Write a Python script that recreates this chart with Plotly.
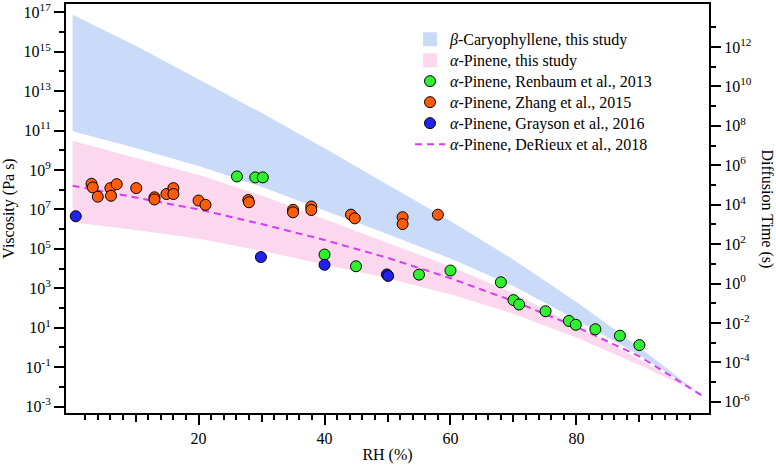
import plotly.graph_objects as go

# ---------------- data ----------------
rh_band = [0, 10, 20, 30, 40, 50, 60, 70, 80, 90, 99.4]
bcp_upper = [7.4e16, 2.0e15, 4.0e13, 7.9e11, 1.26e10, 1.86e8, 2.57e6, 2.8e4, 2.0e2, 1.0e0, 4.9e-3]
bcp_lower = [9.3e10, 1.3e10, 1.6e9, 1.4e8, 8.9e6, 5.6e5, 3.2e4, 1.3e3, 25, 0.4, 4.9e-3]
apin_upper = [3.0e10, 4.0e9, 5.6e8, 5.0e7, 3.2e6, 2.0e5, 1.26e4, 560, 12.6, 0.25, 4.9e-3]
apin_lower = [2.2e6, 8.9e5, 3.2e5, 7.9e4, 1.6e4, 3.2e3, 500, 50, 3.2, 0.126, 4.9e-3]

rh_derieux = [0, 10, 20, 30, 40, 50, 60, 70, 80, 90, 100]
visc_derieux = [1.6e8, 4.0e7, 1.0e7, 1.8e6, 2.8e5, 3.5e4, 3.2e3, 220, 11, 0.35, 3.5e-3]

rh_renbaum = [26.1, 29.0, 30.2, 40.0, 45.0, 55.0, 60.0, 68.0, 70.0, 70.9, 75.1, 78.8, 79.9, 83.0, 86.9, 90.0]
visc_renbaum = [4.7e8, 4.2e8, 4.2e8, 5.1e4, 1.3e4, 4.9e3, 7.9e3, 2.0e3, 250, 150, 68, 22, 14, 8.3, 3.9, 1.3]

rh_zhang = [3.0, 3.2, 4.0, 6.0, 6.1, 7.0, 10.1, 13.0, 13.0, 14.9, 16.0, 16.0, 20.0, 21.1,
            27.9, 28.0, 35.0, 35.0, 37.9, 37.9, 44.2, 44.8, 52.4, 52.4, 58.0]
visc_zhang = [2.0e8, 1.3e8, 4.4e7, 1.2e8, 4.9e7, 1.9e8, 1.2e8, 4.1e7, 3.2e7, 6.0e7, 1.2e8, 6.0e7, 2.8e7, 1.7e7,
              3.0e7, 2.3e7, 9.5e6, 7.1e6, 1.4e7, 9.3e6, 5.4e6, 3.5e6, 4.0e6, 1.8e6, 5.4e6]

rh_grayson = [0.5, 29.9, 40.0, 49.9, 50.1]
visc_grayson = [4.5e6, 3.8e4, 1.55e4, 5.0e3, 4.2e3]

x_major = [20, 40, 60, 80]
x_mid = [10, 30, 50, 70, 90]
x_minor = [2, 4, 6, 8, 12, 14, 16, 18, 22, 24, 26, 28, 32, 34, 36, 38, 42, 44, 46, 48,
           52, 54, 56, 58, 62, 64, 66, 68, 72, 74, 76, 78, 82, 84, 86, 88, 92, 94, 96, 98]
visc_exp_major = [17, 15, 13, 11, 9, 7, 5, 3, 1, -1, -3]
visc_exp_minor = [16, 14, 12, 10, 8, 6, 4, 2, 0, -2]
diff_exp_major = [12, 10, 8, 6, 4, 2, 0, -2, -4, -6]
diff_exp_minor = [13, 11, 9, 7, 5, 3, 1, -1, -3, -5]

legend_names = [
    "<i>β</i>-Caryophyllene, this study",
    "<i>α</i>-Pinene, this study",
    "<i>α</i>-Pinene, Renbaum et al., 2013",
    "<i>α</i>-Pinene, Zhang et al., 2015",
    "<i>α</i>-Pinene, Grayson et al., 2016",
    "<i>α</i>-Pinene, DeRieux et al., 2018",
]

# ---------------- styles ----------------
FONT = "Liberation Serif, Times New Roman, DejaVu Serif, serif"
BLUE_BAND = "#c9dbf8"
PINK_BAND = "#fcd8ee"
GREEN = "#2ef22e"
ORANGE = "#ff5c0a"
BLUE = "#2222f0"
MAGENTA = "#d63cf2"
X_RANGE = [-1.05, 101.05]
Y_RANGE = [-3.33, 17.42]
Y2_RANGE = [-6.57, 14.18]


def lname(s):
    return '<span style="font-size:16px">%s</span>' % s


fig = go.Figure()

# bands (legend shown through square-marker proxies below)
fig.add_trace(go.Scatter(x=rh_band, y=bcp_lower, mode="lines", line=dict(width=0),
                         showlegend=False, hoverinfo="skip"))
fig.add_trace(go.Scatter(x=rh_band, y=bcp_upper, mode="lines", line=dict(width=0),
                         fill="tonexty", fillcolor=BLUE_BAND, showlegend=False,
                         legendgroup="bcp"))
fig.add_trace(go.Scatter(x=rh_band, y=apin_lower, mode="lines", line=dict(width=0),
                         showlegend=False, hoverinfo="skip"))
fig.add_trace(go.Scatter(x=rh_band, y=apin_upper, mode="lines", line=dict(width=0),
                         fill="tonexty", fillcolor=PINK_BAND, showlegend=False,
                         legendgroup="apin"))
fig.add_trace(go.Scatter(x=[None], y=[None], mode="markers",
                         marker=dict(symbol="square", size=14, color=BLUE_BAND),
                         name=lname(legend_names[0]), legendrank=1, legendgroup="bcp"))
fig.add_trace(go.Scatter(x=[None], y=[None], mode="markers",
                         marker=dict(symbol="square", size=14, color=PINK_BAND),
                         name=lname(legend_names[1]), legendrank=2, legendgroup="apin"))

# DeRieux line
fig.add_trace(go.Scatter(x=rh_derieux, y=visc_derieux, mode="lines",
                         line=dict(color=MAGENTA, width=2, dash="7px,5px"),
                         name=lname(legend_names[5]), legendrank=6))

marker_line = dict(color="black", width=1)
fig.add_trace(go.Scatter(x=rh_renbaum, y=visc_renbaum, mode="markers",
                         marker=dict(color=GREEN, size=11, line=marker_line),
                         name=lname(legend_names[2]), legendrank=3))
fig.add_trace(go.Scatter(x=rh_zhang, y=visc_zhang, mode="markers",
                         marker=dict(color=ORANGE, size=11, line=marker_line),
                         name=lname(legend_names[3]), legendrank=4))
fig.add_trace(go.Scatter(x=rh_grayson, y=visc_grayson, mode="markers",
                         marker=dict(color=BLUE, size=11, line=marker_line),
                         name=lname(legend_names[4]), legendrank=5))

# helper invisible traces for extra axes
fig.add_trace(go.Scatter(x=[50], y=[1], xaxis="x2", yaxis="y", mode="markers",
                         marker=dict(opacity=0), showlegend=False, hoverinfo="skip"))
fig.add_trace(go.Scatter(x=[50], y=[1], xaxis="x", yaxis="y2", mode="markers",
                         marker=dict(opacity=0), showlegend=False, hoverinfo="skip"))


def sup(e):
    return "10<sup>%d</sup>" % e


tickfont = dict(family=FONT, size=16, color="black")

fig.update_layout(
    width=776, height=470,
    margin=dict(l=66, r=67, t=2, b=57),
    paper_bgcolor="white", plot_bgcolor="white",
    font=dict(family=FONT, size=16, color="black"),
    showlegend=True,
    legend=dict(x=0.535, y=0.952, xanchor="left", yanchor="top",
                traceorder="normal",
                bgcolor="rgba(0,0,0,0)", borderwidth=0,
                font=dict(family=FONT, size=13.85, color="black"),
                tracegroupgap=0, itemwidth=30),
    xaxis=dict(range=X_RANGE, showgrid=False, zeroline=False,
               showline=True, linecolor="black", linewidth=2, mirror=True,
               tickmode="array", tickvals=x_major, ticktext=[str(v) for v in x_major],
               ticks="outside", ticklen=10, tickwidth=1.5, tickcolor="black",
               tickfont=tickfont,
               minor=dict(tickmode="array", tickvals=x_minor, ticks="outside",
                          ticklen=5, tickwidth=1.5, tickcolor="black", showgrid=False),
               title=dict(text="RH (%)", font=dict(family=FONT, size=16), standoff=3)),
    xaxis2=dict(range=X_RANGE, overlaying="x", anchor="y", side="bottom",
                showgrid=False, zeroline=False, showline=False,
                tickmode="array", tickvals=x_mid, showticklabels=False,
                ticks="outside", ticklen=7.5, tickwidth=1.5, tickcolor="black"),
    yaxis=dict(type="log", range=Y_RANGE, showgrid=False, zeroline=False,
               showline=True, linecolor="black", linewidth=2,
               tickmode="array", tickvals=[10.0 ** e for e in visc_exp_major],
               ticktext=[sup(e) for e in visc_exp_major],
               ticks="outside", ticklen=10, tickwidth=1.5, tickcolor="black",
               tickfont=tickfont,
               minor=dict(tickmode="array", tickvals=[10.0 ** e for e in visc_exp_minor],
                          ticks="outside", ticklen=5, tickwidth=1.5, tickcolor="black",
                          showgrid=False),
               title=dict(text="Viscosity (Pa s)", font=dict(family=FONT, size=16), standoff=5)),
    yaxis2=dict(type="log", range=Y2_RANGE, overlaying="y", side="right", anchor="x",
                showgrid=False, zeroline=False,
                showline=True, linecolor="black", linewidth=2,
                tickmode="array", tickvals=[10.0 ** e for e in diff_exp_major],
                ticktext=[sup(e) for e in diff_exp_major],
                ticks="outside", ticklen=10, tickwidth=1.5, tickcolor="black",
                tickfont=tickfont,
                minor=dict(tickmode="array", tickvals=[10.0 ** e for e in diff_exp_minor],
                           ticks="outside", ticklen=5, tickwidth=1.5, tickcolor="black",
                           showgrid=False)),
)

fig.add_annotation(text="Diffusion Time (s)", textangle=90, xref="paper", yref="paper",
                   x=1.0, y=0.5, xshift=58, showarrow=False, xanchor="center",
                   font=dict(family=FONT, size=16, color="black"))

fig.write_html("out.html")
